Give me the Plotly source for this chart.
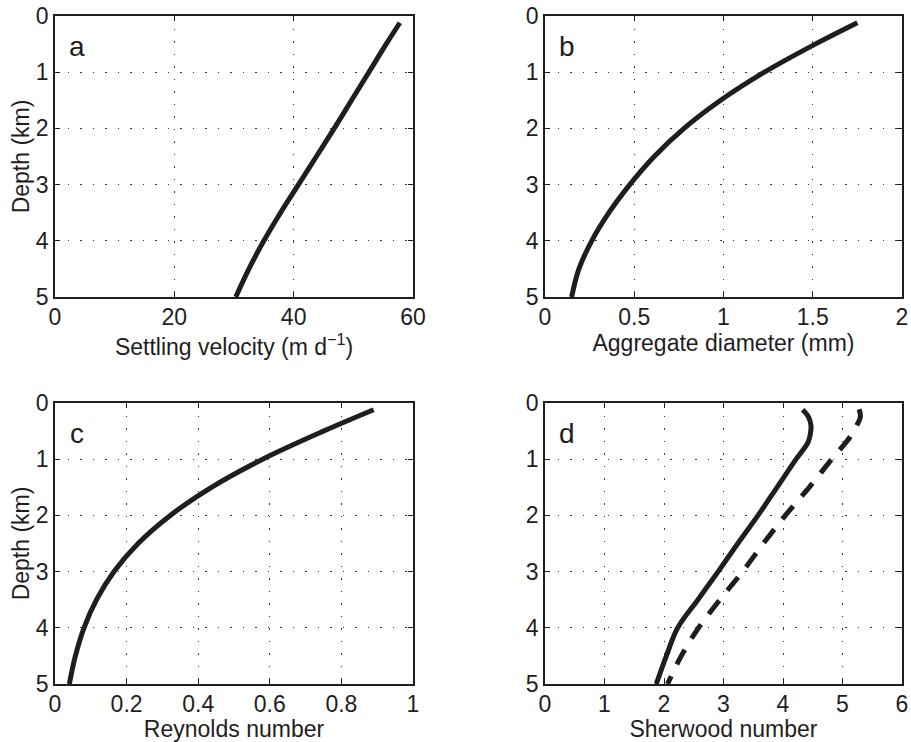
import plotly.graph_objects as go

# Depth profiles (km) and the quantities plotted against them
depth_a = [0.12, 0.5, 1.0, 1.5, 2.0, 2.5, 3.0, 3.5, 4.0, 4.5, 5.0]
settling_velocity = [57.8, 55.5, 52.6, 49.7, 46.8, 43.8, 40.8, 37.8, 35.0, 32.5, 30.3]

depth_b = [0.12, 0.5, 1.0, 1.5, 2.0, 2.5, 3.0, 3.5, 4.0, 4.5, 5.0]
aggregate_diameter = [1.75, 1.514, 1.229, 0.984, 0.779, 0.612, 0.475, 0.358, 0.262, 0.19, 0.149]

depth_c = [0.12, 0.5, 1.0, 1.5, 2.0, 2.5, 3.0, 3.5, 4.0, 4.5, 5.0]
reynolds_number = [0.89, 0.75, 0.58, 0.437, 0.322, 0.232, 0.165, 0.116, 0.081, 0.057, 0.04]

depth_d_solid = [0.12, 0.25, 0.4, 0.55, 0.7, 1.0, 1.5, 2.0, 2.5, 3.0, 3.5, 4.0, 4.5, 5.0]
sherwood_solid = [4.33, 4.43, 4.47, 4.46, 4.42, 4.22, 3.90, 3.58, 3.24, 2.91, 2.57, 2.23, 2.04, 1.87]

depth_d_dashed = [0.11, 0.25, 0.4, 0.6, 0.8, 1.0, 1.5, 2.0, 2.5, 3.0, 3.5, 4.0, 4.5, 5.0]
sherwood_dashed = [5.28, 5.30, 5.24, 5.13, 4.98, 4.82, 4.44, 4.04, 3.67, 3.32, 2.94, 2.58, 2.29, 2.06]

depth_ticks = [0, 1, 2, 3, 4, 5]
ticks_a = [0, 20, 40, 60]
ticks_b = [0, 0.5, 1, 1.5, 2]
ticks_c = [0, 0.2, 0.4, 0.6, 0.8, 1]
ticks_d = [0, 1, 2, 3, 4, 5, 6]

W, H = 911, 742
INK = "#1f1d1e"
FONT = "Liberation Sans, Arial, Helvetica, sans-serif"

# plot-area boxes in pixels: (left, right, top, bottom)
boxes = {
    "a": (55, 413, 16, 297),
    "b": (545, 902, 16, 297),
    "c": (55, 413, 403, 684),
    "d": (545, 902, 403, 684),
}


def xdom(box):
    return [box[0] / W, box[1] / W]


def ydom(box):
    return [1 - box[3] / H, 1 - box[2] / H]


fig = go.Figure()

line_style = dict(color=INK, width=5, shape="spline", smoothing=1.0)

fig.add_trace(go.Scatter(x=settling_velocity, y=depth_a, mode="lines",
                         line=line_style, xaxis="x", yaxis="y"))
fig.add_trace(go.Scatter(x=aggregate_diameter, y=depth_b, mode="lines",
                         line=line_style, xaxis="x2", yaxis="y2"))
fig.add_trace(go.Scatter(x=reynolds_number, y=depth_c, mode="lines",
                         line=line_style, xaxis="x3", yaxis="y3"))
fig.add_trace(go.Scatter(x=sherwood_solid, y=depth_d_solid, mode="lines",
                         line=line_style, xaxis="x4", yaxis="y4"))
fig.add_trace(go.Scatter(x=sherwood_dashed, y=depth_d_dashed, mode="lines",
                         line=dict(line_style, dash="17px,13px"),
                         xaxis="x4", yaxis="y4"))

axis_common = dict(
    showline=True, linecolor=INK, linewidth=1.5, mirror="ticks",
    ticks="inside", ticklen=5, tickwidth=1, tickcolor=INK,
    showgrid=True, gridcolor="#3a3a3a", gridwidth=1, griddash="1.5px,11px",
    zeroline=False, tickfont=dict(family=FONT, size=23, color=INK),
    title_font=dict(family=FONT, size=23, color=INK),
    automargin=False, fixedrange=True,
)

x_specs = [
    ("a", [0, 60], ticks_a, "Settling velocity (m d<sup>\u22121</sup>)"),
    ("b", [0, 2], ticks_b, "Aggregate diameter (mm)"),
    ("c", [0, 1], ticks_c, "Reynolds number"),
    ("d", [0, 6], ticks_d, "Sherwood number"),
]

layout = {}
for i, (key, rng, tv, title) in enumerate(x_specs):
    sfx = "" if i == 0 else str(i + 1)
    box = boxes[key]
    layout["xaxis" + sfx] = dict(
        axis_common, domain=xdom(box), range=rng, tickvals=tv,
        ticktext=[f"{v:g}" for v in tv], anchor="y" + sfx,
        ticklabelstandoff=-1, title=dict(text=title, standoff=4),
    )
    yax = dict(
        axis_common, domain=ydom(box), range=[5, 0], tickvals=depth_ticks,
        anchor="x" + sfx, ticklabelstandoff=0,
    )
    if key in ("a", "c"):
        yax["title"] = dict(text="Depth (km)", standoff=0)
    layout["yaxis" + sfx] = yax

annotations = []
for i, key in enumerate(["a", "b", "c", "d"]):
    sfx = "" if i == 0 else str(i + 1)
    annotations.append(dict(
        text=key, xref=f"x{sfx} domain", yref=f"y{sfx} domain",
        x=0.062, y=0.89, xanchor="center", yanchor="middle", showarrow=False,
        font=dict(family=FONT, size=28, color=INK),
    ))

fig.update_layout(
    **layout,
    annotations=annotations,
    width=W, height=H,
    margin=dict(l=0, r=0, t=0, b=0, autoexpand=False),
    paper_bgcolor="white", plot_bgcolor="white",
    showlegend=False,
)

fig.write_html("out.html", config={"displayModeBar": False})
